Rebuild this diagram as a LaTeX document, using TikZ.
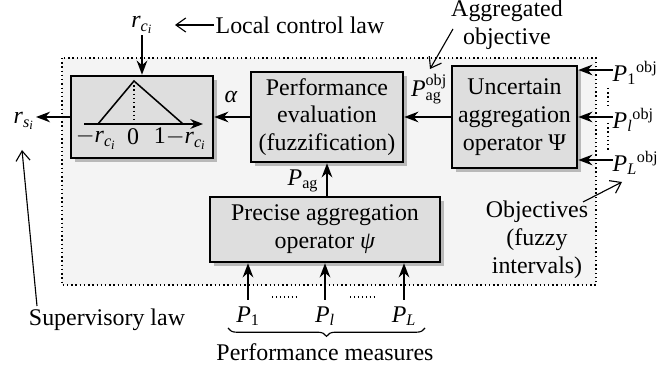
\documentclass[tikz,border=0pt]{standalone}
\usepackage{amsmath}
\usepackage{fontspec}
\setmainfont{Liberation Serif}
\DeclareMathSizes{17}{17}{11.5}{9}
\usetikzlibrary{arrows.meta,shadows,decorations.pathreplacing,positioning}

\tikzset{
	block/.style={rectangle, draw, line width=1.8pt, fill=gray!26, align=center, inner sep=0pt,
		drop shadow={shadow xshift=0.1cm, shadow yshift=-0.1cm, fill=gray!55, opacity=1}},
	signal/.style={-{Stealth[length=10pt, width=7.5pt]}, line width=1.5pt},
	pointer/.style={-{Straight Barb[length=7pt, width=10pt]}, line width=0.8pt},
	label/.style={inner sep=1pt}
}

\begin{document}
\begin{tikzpicture}[x=0.025cm, y=-0.025cm, font=\fontsize{17}{19.8}\selectfont]
		
		\useasboundingbox (0,0) rectangle (659,372);
		
		% Supervisor frame
		\draw[dotted, line width=1pt, fill=gray!9] (62,58) rectangle (596,285);
		
		% Blocks
		\node (membership) at (142,117) [block, minimum width=3.55cm, minimum height=2.05cm]{};
		\node (evaluation) at (327,117) [block, minimum width=3.8cm, minimum height=2.25cm]{Performance\\evaluation\\(fuzzification)};
		\node (uncertain) at (514.5,117) [block, minimum width=3.125cm, minimum height=2.55cm]{Uncertain\\aggregation\\operator Ψ};
		\node (precise) at (325,229.5) [block, minimum width=5.75cm, minimum height=1.625cm]{Precise aggregation\\operator \textit{ψ}};
		
		% Membership function inside the first block
		\draw[-{Stealth[length=9pt, width=7pt]}, line width=1.1pt] (84,124) -- (203,124);
		\draw[line width=1.1pt] (98,124) -- (134,81) -- (183,124);
		\draw[dotted, line width=1pt] (134,81) -- (134,124);
		\node (minusRc) at (96,139) [label]{$-\textit{r}_{\textit{c}_\textit{i}}$};
		\node (zero) at (133,137) [label]{0};
		\node (oneMinusRc) at (180,139) [label]{1$-$\textit{r}$_{\textit{c}_\textit{i}}$};
		
		% Local control law
		\node (rc) at (142,25) [label]{\textit{r}$_{\textit{c}_\textit{i}}$};
		\node (localLaw) at (214,25) [label, anchor=west]{Local control law};
		\coordinate (localTip) at (175,25);
		\draw[signal] (rc.south) -- (membership.north);
		\draw[pointer] (localLaw.west) -- (localTip);
		
		% Supervisory law
		\node (rs) at (24,121) [label]{\textit{r}$_{\textit{s}_\textit{i}}$};
		\draw[signal] (membership.west) -- (membership.west -| rs.east);
		\node (supervisory) at (107,320) [label]{Supervisory law};
		\coordinate (supTail) at (37,306);
		\coordinate (supTip) at (22,150);
		\draw[pointer] (supTail) -- (supTip);
		
		% Linking the blocks
		\node (alpha) at (231,97) [label]{\textit{α}};
		\draw[signal] (evaluation.west) -- (membership.east);
		\node (pagObj) at (429,89) [label]{$\textit{P}_{\text{ag}}^{\text{obj}}$};
		\draw[signal] (uncertain.west) -- (evaluation.east);
		\node (pag) at (303,181) [label]{$\textit{P}_{\text{ag}}$};
		\draw[signal] (precise.north -| evaluation.south) -- (evaluation.south);
		
		% Aggregated objective
		\node (aggregated) at (507,25) [label, align=center]{Aggregated\\objective};
		\coordinate (aggTail) at (453,29);
		\coordinate (aggTip) at (430,69);
		\draw[pointer] (aggTail) -- (aggTip);
		
		% Objectives
		\node (pOneObj) at (611,73) [label, anchor=west]{${\textit{P}_\text{1}}^{\text{obj}}$};
		\node (plObj) at (611,120) [label, anchor=west]{${\textit{P}_\textit{l}}^{\text{obj}}$};
		\node (pLObj) at (611,163) [label, anchor=west]{${\textit{P}_\textit{L}}^{\text{obj}}$};
		\draw[signal] (613,70) -- (uncertain.east |- 0,70);
		\draw[signal] (613,117) -- (uncertain.east);
		\draw[signal] (613,160) -- (uncertain.east |- 0,160);
		\draw[dotted, line width=1pt] (608,88) -- (608,107);
		\draw[dotted, line width=1pt] (608,123) -- (608,150);
		\node (objectives) at (537,240) [label, align=center]{Objectives\\(fuzzy\\intervals)};
		\coordinate (objTail) at (583,202);
		\coordinate (objTip) at (622,182);
		\draw[pointer] (objTail) -- (objTip);
		
		% Performance measures
		\node (pOne) at (248,316) [label]{$\textit{P}_\text{1}$};
		\node (pl) at (325,316) [label]{$\textit{P}_\textit{l}$};
		\node (pL) at (404,316) [label]{$\textit{P}_\textit{L}$};
		\draw[signal] (248,300) -- (pOne |- precise.south);
		\draw[signal] (325,300) -- (pl |- precise.south);
		\draw[signal] (404,300) -- (pL |- precise.south);
		\draw[dotted, line width=0.8pt] (272,297) -- (297,297);
		\draw[dotted, line width=0.8pt] (350,297) -- (375,297);
		\draw[decorate, decoration={brace, mirror, amplitude=6pt}, line width=0.8pt] (228,328) -- (425,328);
		\node (measures) at (325,352) [label]{Performance measures};
		
		\end{tikzpicture}
\end{document}
